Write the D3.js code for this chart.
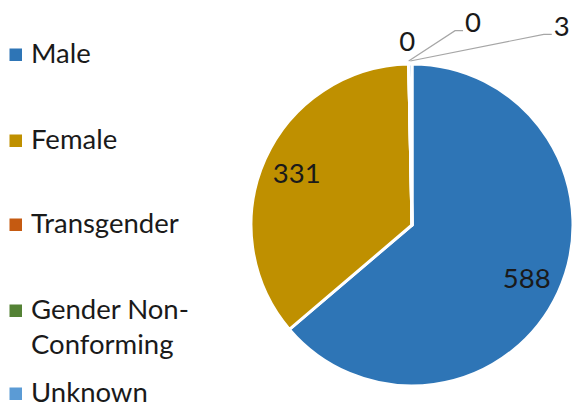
<!DOCTYPE html>
<html>
<head>
<meta charset="utf-8">
<script src="https://cdn.jsdelivr.net/npm/d3@7"></script>
<style>
  html, body { margin: 0; padding: 0; background: #fff; }
  svg { display: block; }
  text { font-family: Lato, "Open Sans", sans-serif; fill: #1a1a1a; }
</style>
</head>
<body>
<svg id="chart" width="573" height="410"></svg>
<script>
// ---- data ----
const categories = ["Male", "Female", "Transgender", "Gender Non-Conforming", "Unknown"];
const values = [588, 331, 0, 0, 3];
const legendLines = [["Male"], ["Female"], ["Transgender"], ["Gender Non-", "Conforming"], ["Unknown"]];
const colors = ["#2E75B6", "#BF9000", "#C55A11", "#548235", "#5B9BD5"];

// ---- layout ----
const W = 573, H = 410;
const cx = 412, cy = 225, R = 161;
const fontSize = 27.5;

const svg = d3.select("#chart");
const data = categories.map((c, i) => ({ cat: c, value: values[i], color: colors[i], idx: i }));

const pie = d3.pie().value(d => d.value).sort(null).startAngle(0).endAngle(2 * Math.PI);
const arcs = pie(data);
const arc = d3.arc().innerRadius(0).outerRadius(R);
const labelArc = d3.arc().innerRadius(R * 0.785).outerRadius(R * 0.785);

const g = svg.append("g").attr("transform", `translate(${cx},${cy})`);
g.selectAll("path.slice")
  .data(arcs)
  .join("path")
  .attr("class", "slice")
  .attr("d", arc)
  .attr("fill", d => d.data.color)
  .attr("stroke", "#fff")
  .attr("stroke-width", 3)
  .attr("stroke-linejoin", "round");

// big slice labels at centroid
const big = arcs.filter(d => d.data.value > 50);
g.selectAll("text.big")
  .data(big)
  .join("text")
  .attr("class", "big")
  .attr("x", d => labelArc.centroid(d)[0])
  .attr("y", d => labelArc.centroid(d)[1])
  .attr("dy", "0.36em")
  .attr("text-anchor", "middle")
  .attr("font-size", fontSize)
  .text(d => d.data.value);

// small slice labels (placed outside at top with leader lines), offsets in pie-radius units
const smallPlacement = {
  2: { lx: -0.03, ly: -1.14, leader: false },
  3: { ex: 0.317, ly: -1.207, leader: true },
  4: { ex: 0.868, ly: -1.184, leader: true }
};
const small = arcs.filter(d => d.data.value <= 50);
small.forEach(d => {
  const p = smallPlacement[d.data.idx];
  const mid = (d.startAngle + d.endAngle) / 2;
  const ax = Math.sin(mid) * (R + 3);
  const ay = -Math.cos(mid) * (R + 3);
  const ty = p.ly * R;
  if (p.leader) {
    const ex = p.ex * R;
    g.append("polyline")
      .attr("points", `${ax},${ay} ${ex - 8},${ty} ${ex},${ty}`)
      .attr("fill", "none")
      .attr("stroke", "#A6A6A6")
      .attr("stroke-width", 1.2);
    g.append("text")
      .attr("x", ex + 2)
      .attr("y", ty)
      .attr("dy", "0.06em")
      .attr("font-size", fontSize)
      .text(d.data.value);
  } else {
    g.append("text")
      .attr("x", p.lx * R)
      .attr("y", ty)
      .attr("dy", "0.36em")
      .attr("text-anchor", "middle")
      .attr("font-size", fontSize)
      .text(d.data.value);
  }
});

// legend
const legendBaselines = [63, 149, 233, 319, 402];
const lg = svg.append("g");
data.forEach((d, i) => {
  const base = legendBaselines[i];
  lg.append("rect")
    .attr("x", 9.5).attr("y", base - 14.5)
    .attr("width", 12.5).attr("height", 12.5)
    .attr("fill", d.color);
  const t = lg.append("text")
    .attr("x", 31).attr("y", base)
    .attr("font-size", fontSize);
  legendLines[i].forEach((line, j) => {
    t.append("tspan").attr("x", 31).attr("dy", j === 0 ? 0 : 35).text(line);
  });
});
</script>
</body>
</html>
